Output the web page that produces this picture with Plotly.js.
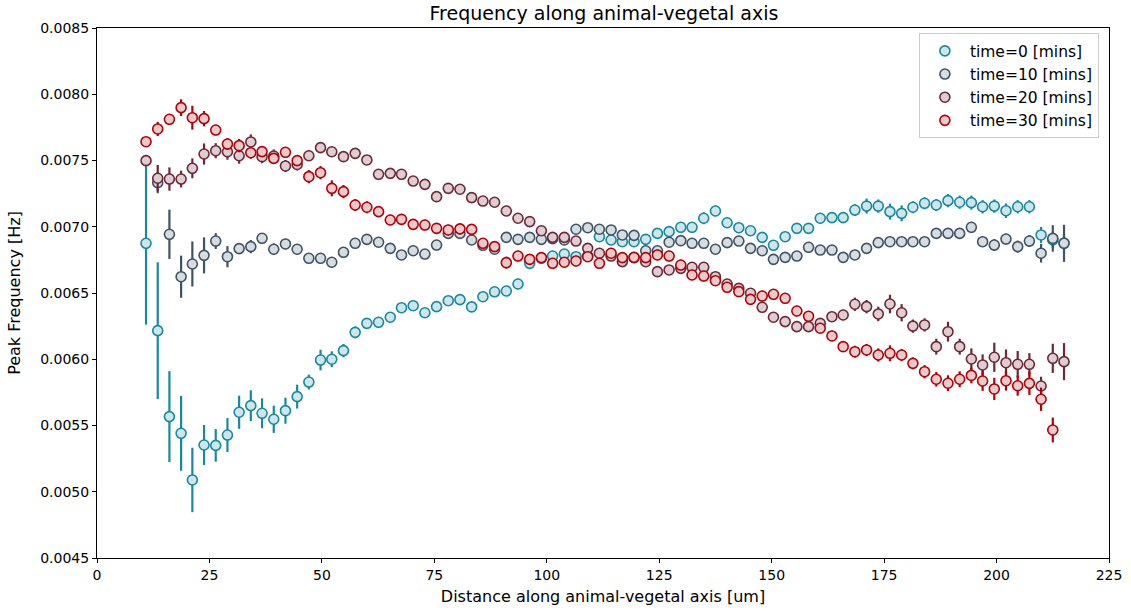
<!DOCTYPE html>
<html>
<head>
<meta charset="utf-8">
<script src="https://cdn.plot.ly/plotly-3.0.1.min.js"></script>
<style>html,body{margin:0;padding:0;background:#fff}#chart{width:1131px;height:612px}</style>
</head>
<body>
<div id="chart"></div>
<script>
// Distance along animal-vegetal axis [um]
const distance = [10.9,13.5,16.1,18.7,21.2,23.8,26.4,29.0,31.6,34.2,36.7,39.3,41.9,44.5,47.1,49.7,52.2,54.8,57.4,60.0,
62.6,65.2,67.7,70.3,72.9,75.5,78.1,80.7,83.3,85.8,88.4,91.0,93.6,96.2,98.8,101.3,103.9,106.5,109.1,111.7,
114.3,116.8,119.4,122.0,124.6,127.2,129.8,132.3,134.9,137.5,140.1,142.7,145.3,147.9,150.4,153.0,155.6,158.2,160.8,163.4,
165.9,168.5,171.1,173.7,176.3,178.9,181.4,184.0,186.6,189.2,191.8,194.4,196.9,199.5,202.1,204.7,207.3,209.9,212.5,215.0];

// Peak frequency [Hz] per time point
const freq_t0 = [0.006875,0.006216,0.005567,0.005441,0.005089,0.005353,0.005350,0.005428,0.005600,0.005650,
0.005592,0.005547,0.005612,0.005718,0.005828,0.005994,0.006000,0.006065,0.006203,0.006271,
0.006279,0.006317,0.006389,0.006404,0.006351,0.006397,0.006442,0.006450,0.006395,0.006472,
0.006509,0.006515,0.006568,0.006724,0.006762,0.006779,0.006794,0.006774,0.006780,0.006925,
0.006900,0.006887,0.006887,0.006905,0.006950,0.006963,0.006996,0.006996,0.007064,0.007119,
0.007030,0.006993,0.006970,0.006920,0.006860,0.006925,0.006988,0.006988,0.007064,0.007069,
0.007069,0.007126,0.007156,0.007156,0.007114,0.007101,0.007147,0.007177,0.007164,0.007197,
0.007185,0.007182,0.007151,0.007156,0.007121,0.007151,0.007151,0.006938,0.006900,0.006877];
const err_t0 = [0.000614,0.000516,0.000343,0.000283,0.000243,0.000151,0.000123,0.000128,0.000125,0.000116,
0.000113,0.000103,0.000098,0.000090,0.000056,0.000078,0.000060,0.000050,0.000045,0.000035,
0.000030,0.000030,0.000030,0.000030,0.000030,0.000030,0.000030,0.000030,0.000030,0.000035,
0.000035,0.000035,0.000040,0.000045,0.000040,0.000035,0.000035,0.000035,0.000035,0.000035,
0.000035,0.000035,0.000035,0.000035,0.000035,0.000040,0.000040,0.000040,0.000045,0.000040,
0.000040,0.000040,0.000035,0.000040,0.000040,0.000040,0.000040,0.000040,0.000040,0.000040,
0.000040,0.000045,0.000057,0.000050,0.000060,0.000060,0.000045,0.000045,0.000045,0.000050,
0.000050,0.000053,0.000050,0.000050,0.000055,0.000050,0.000050,0.000060,0.000060,0.000060];

const freq_t10 = [null,0.007333,0.006943,0.006623,0.006719,0.006784,0.006892,0.006774,0.006835,0.006850,
0.006913,0.006830,0.006870,0.006830,0.006762,0.006762,0.006732,0.006807,0.006875,0.006905,
0.006883,0.006837,0.006787,0.006819,0.006794,0.006862,0.006950,0.006950,0.006900,0.006860,
0.006830,0.006920,0.006905,0.006920,0.006905,0.006910,0.006900,0.006981,0.006993,0.006981,
0.006976,0.006938,0.006935,0.006819,0.006819,0.006883,0.006895,0.006875,0.006875,0.006830,
0.006880,0.006892,0.006837,0.006819,0.006754,0.006769,0.006779,0.006845,0.006824,0.006824,
0.006769,0.006787,0.006837,0.006880,0.006887,0.006887,0.006887,0.006887,0.006950,0.006950,
0.006950,0.006996,0.006887,0.006862,0.006907,0.006850,0.006892,0.006800,0.006912,0.006875];
const err_t10 = [null,0.000080,0.000186,0.000159,0.000170,0.000136,0.000060,0.000080,0.000040,0.000050,
0.000040,0.000044,0.000040,0.000040,0.000035,0.000035,0.000040,0.000035,0.000040,0.000035,
0.000030,0.000030,0.000030,0.000030,0.000030,0.000030,0.000030,0.000030,0.000030,0.000030,
0.000030,0.000035,0.000030,0.000030,0.000030,0.000030,0.000030,0.000030,0.000030,0.000030,
0.000030,0.000030,0.000030,0.000030,0.000030,0.000030,0.000030,0.000030,0.000030,0.000030,
0.000030,0.000030,0.000030,0.000030,0.000035,0.000035,0.000035,0.000035,0.000035,0.000035,
0.000035,0.000035,0.000035,0.000035,0.000035,0.000035,0.000035,0.000035,0.000035,0.000035,
0.000035,0.000040,0.000040,0.000045,0.000040,0.000045,0.000045,0.000070,0.000100,0.000140];

const freq_t20 = [0.007499,0.007366,0.007360,0.007360,0.007441,0.007549,0.007574,0.007566,0.007536,0.007640,
0.007529,0.007534,0.007459,0.007470,0.007536,0.007597,0.007566,0.007529,0.007554,0.007504,
0.007396,0.007403,0.007396,0.007345,0.007320,0.007227,0.007290,0.007283,0.007220,0.007194,
0.007185,0.007119,0.007064,0.007039,0.006970,0.006920,0.006920,0.006892,0.006837,0.006800,
0.006779,0.006737,0.006767,0.006736,0.006661,0.006674,0.006686,0.006694,0.006694,0.006623,
0.006568,0.006535,0.006498,0.006392,0.006317,0.006284,0.006246,0.006246,0.006271,0.006321,
0.006334,0.006415,0.006397,0.006342,0.006417,0.006351,0.006250,0.006259,0.006095,0.006208,
0.006095,0.006002,0.005957,0.006015,0.005974,0.005962,0.005962,0.005798,0.006007,0.005982];
const err_t20 = [0.000030,0.000100,0.000088,0.000063,0.000075,0.000080,0.000057,0.000060,0.000060,0.000057,
0.000050,0.000050,0.000045,0.000045,0.000040,0.000040,0.000040,0.000040,0.000040,0.000035,
0.000035,0.000035,0.000035,0.000035,0.000035,0.000035,0.000035,0.000035,0.000035,0.000035,
0.000035,0.000035,0.000035,0.000035,0.000035,0.000035,0.000035,0.000035,0.000035,0.000035,
0.000035,0.000035,0.000035,0.000035,0.000035,0.000035,0.000035,0.000035,0.000035,0.000035,
0.000035,0.000035,0.000035,0.000035,0.000035,0.000035,0.000035,0.000035,0.000040,0.000040,
0.000040,0.000050,0.000050,0.000055,0.000070,0.000065,0.000050,0.000050,0.000060,0.000075,
0.000060,0.000080,0.000080,0.000110,0.000100,0.000100,0.000084,0.000070,0.000110,0.000140];

const freq_t30 = [0.007642,0.007738,0.007811,0.007899,0.007823,0.007816,0.007730,0.007624,0.007612,0.007559,
0.007567,0.007516,0.007562,0.007499,0.007378,0.007408,0.007290,0.007265,0.007164,0.007147,
0.007114,0.007051,0.007056,0.007018,0.007013,0.006988,0.006976,0.006984,0.006980,0.006875,
0.006850,0.006729,0.006779,0.006754,0.006767,0.006724,0.006732,0.006742,0.006774,0.006724,
0.006800,0.006767,0.006769,0.006767,0.006787,0.006779,0.006711,0.006636,0.006628,0.006593,
0.006543,0.006510,0.006452,0.006477,0.006490,0.006460,0.006364,0.006324,0.006234,0.006176,
0.006095,0.006057,0.006070,0.006032,0.006045,0.006032,0.005969,0.005906,0.005849,0.005819,
0.005849,0.005878,0.005836,0.005776,0.005838,0.005800,0.005818,0.005698,0.005466,null];
const err_t30 = [0.000030,0.000053,0.000040,0.000063,0.000090,0.000058,0.000040,0.000045,0.000050,0.000045,
0.000040,0.000040,0.000040,0.000040,0.000050,0.000050,0.000060,0.000050,0.000045,0.000045,
0.000040,0.000040,0.000040,0.000040,0.000040,0.000040,0.000040,0.000040,0.000040,0.000040,
0.000040,0.000045,0.000040,0.000040,0.000040,0.000040,0.000040,0.000040,0.000040,0.000040,
0.000040,0.000040,0.000040,0.000040,0.000040,0.000040,0.000040,0.000040,0.000040,0.000040,
0.000040,0.000040,0.000040,0.000040,0.000040,0.000040,0.000040,0.000040,0.000040,0.000040,
0.000040,0.000045,0.000045,0.000050,0.000060,0.000045,0.000045,0.000050,0.000055,0.000060,
0.000060,0.000060,0.000075,0.000084,0.000075,0.000075,0.000088,0.000088,0.000094,null];

const seriesNames = ['time=0 [mins]','time=10 [mins]','time=20 [mins]','time=30 [mins]'];
const edgeColors = ['#17899f','#3d5467','#6c2836','#b00008'];
const fillColors = ['#cde6ec','#d6dce0','#e0cdd2','#eec9ca'];

const ys = [freq_t0, freq_t10, freq_t20, freq_t30];
const es = [err_t0, err_t10, err_t20, err_t30];

const traces = ys.map((y, i) => ({
  type: 'scatter',
  mode: 'markers',
  name: seriesNames[i],
  x: distance,
  y: y,
  error_y: {type: 'data', array: es[i], visible: true, color: edgeColors[i], thickness: 2.2, width: 0},
  marker: {symbol: 'circle', size: 10, color: fillColors[i], line: {color: edgeColors[i], width: 1.6}},
  cliponaxis: false
}));

const font = 'DejaVu Sans, Liberation Sans, sans-serif';
const layout = {
  width: 1131, height: 612,
  margin: {l: 97, r: 22, t: 28, b: 54, pad: 0},
  paper_bgcolor: '#ffffff', plot_bgcolor: '#ffffff',
  font: {family: font, size: 14, color: '#000'},
  title: {text: 'Frequency along animal-vegetal axis', font: {family: font, size: 19, color: '#000'}, x: 0.534, xanchor: 'center', y: 0.978, yanchor: 'middle'},
  showlegend: true,
  legend: {x: 0.99, xanchor: 'right', y: 0.99, yanchor: 'top', bgcolor: 'rgba(255,255,255,0.8)', bordercolor: '#cccccc', borderwidth: 1,
           font: {family: font, size: 15.5, color: '#000'}, tracegroupgap: 0, itemwidth: 40},
  xaxis: {
    range: [0, 225], tickmode: 'array', tickvals: [0,25,50,75,100,125,150,175,200,225],
    ticktext: ['0','25','50','75','100','125','150','175','200','225'],
    ticks: 'outside', ticklen: 4, tickwidth: 1, tickcolor: '#000',
    showline: true, linecolor: '#000', linewidth: 1, mirror: true,
    showgrid: false, zeroline: false,
    title: {text: 'Distance along animal-vegetal axis [um]', font: {family: font, size: 16}, standoff: 9},
    tickfont: {family: font, size: 14}
  },
  yaxis: {
    range: [0.0045, 0.0085], tickmode: 'array',
    tickvals: [0.0045,0.005,0.0055,0.006,0.0065,0.007,0.0075,0.008,0.0085],
    ticktext: ['0.0045','0.0050','0.0055','0.0060','0.0065','0.0070','0.0075','0.0080','0.0085'],
    ticks: 'outside', ticklen: 4, tickwidth: 1, tickcolor: '#000',
    showline: true, linecolor: '#000', linewidth: 1, mirror: true,
    showgrid: false, zeroline: false,
    title: {text: 'Peak Frequency [Hz]', font: {family: font, size: 16}, standoff: 15},
    tickfont: {family: font, size: 14}
  }
};

Plotly.newPlot('chart', traces, layout, {displayModeBar: false, staticPlot: true});
</script>
</body>
</html>
